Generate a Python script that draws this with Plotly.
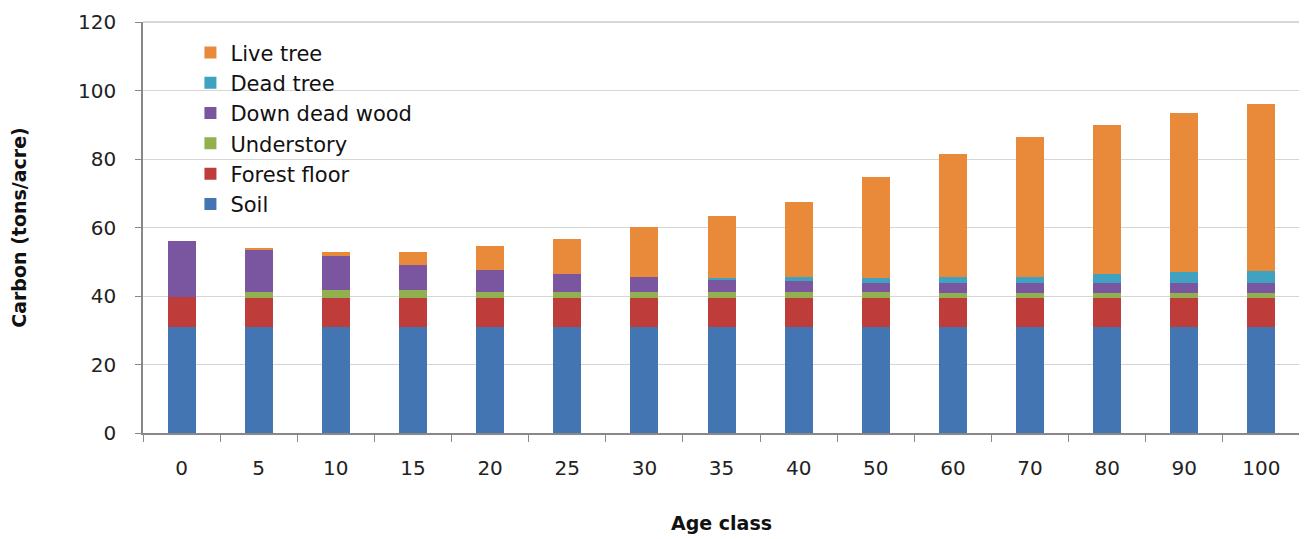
import plotly.graph_objects as go

ages = ["0", "5", "10", "15", "20", "25", "30", "35", "40", "50", "60", "70", "80", "90", "100"]
soil = [31.0] * 15
forest_floor = [8.8, 8.5, 8.5, 8.5, 8.5, 8.5, 8.5, 8.5, 8.5, 8.5, 8.5, 8.5, 8.5, 8.5, 8.5]
understory = [0.0, 1.8, 2.3, 2.3, 1.8, 1.8, 1.8, 1.7, 1.6, 1.6, 1.5, 1.5, 1.5, 1.5, 1.5]
down_dead_wood = [16.2, 12.4, 9.9, 7.2, 6.2, 5.0, 4.3, 3.5, 3.4, 2.8, 2.7, 2.7, 2.7, 2.7, 2.8]
dead_tree = [0.0, 0.0, 0.0, 0.0, 0.0, 0.0, 0.0, 0.5, 1.0, 1.3, 1.9, 1.9, 2.6, 3.2, 3.5]
live_tree = [0.0, 0.4, 1.1, 3.9, 7.2, 10.3, 14.5, 18.3, 22.0, 29.5, 35.9, 40.9, 43.6, 46.4, 48.7]

series = [
    ("Soil", soil, "#4375B3"),
    ("Forest floor", forest_floor, "#BE3D3B"),
    ("Understory", understory, "#93B050"),
    ("Down dead wood", down_dead_wood, "#7A55A0"),
    ("Dead tree", dead_tree, "#3EA2C0"),
    ("Live tree", live_tree, "#E88A3A"),
]

FONT = "DejaVu Sans"

fig = go.Figure()
for name, vals, color in series:
    fig.add_trace(go.Bar(x=ages, y=vals, name=name, marker_color=color,
                         marker_line_width=0))

fig.update_layout(
    barmode="stack",
    bargap=0.637,
    width=1299, height=531,
    margin=dict(l=135, r=7, t=14, b=106),
    paper_bgcolor="white", plot_bgcolor="white",
    font=dict(family=FONT, color="#1a1a1a"),
    showlegend=True,
    legend=dict(traceorder="reversed", x=0.041, y=0.975, xanchor="left", yanchor="top",
                font=dict(size=21, family=FONT, color="#111"), bgcolor="rgba(0,0,0,0)",
                itemwidth=30, tracegroupgap=0),
)
fig.update_xaxes(
    type="category", tickson="boundaries", ticks="outside", ticklen=7, tickcolor="#888",
    showline=True, linecolor="#888", linewidth=1.5,
    tickfont=dict(size=20, family=FONT, color="#222"), ticklabelstandoff=16,
    title=dict(text="<b>Age class</b>", font=dict(size=19, family=FONT, color="#111"), standoff=38),
)
fig.update_yaxes(
    range=[0, 120], dtick=20, ticks="outside", ticklen=6, tickcolor="#888",
    showline=True, linecolor="#888", linewidth=1.5, automargin=False,
    showgrid=True, gridcolor="#d6d6d6", gridwidth=1, zeroline=False,
    tickfont=dict(size=20, family=FONT, color="#222"), ticklabelstandoff=15,
    title=dict(text="<b>Carbon (tons/acre)</b>", font=dict(size=19, family=FONT, color="#111"), standoff=51),
)
fig.add_shape(type="line", xref="paper", yref="paper", x0=1, x1=1, y0=0, y1=1,
              line=dict(color="#e4e4e4", width=1))
fig.add_shape(type="line", xref="paper", yref="paper", x0=0, x1=1, y0=1, y1=1,
              line=dict(color="#b0b0b0", width=1))

fig.write_html("out.html")
